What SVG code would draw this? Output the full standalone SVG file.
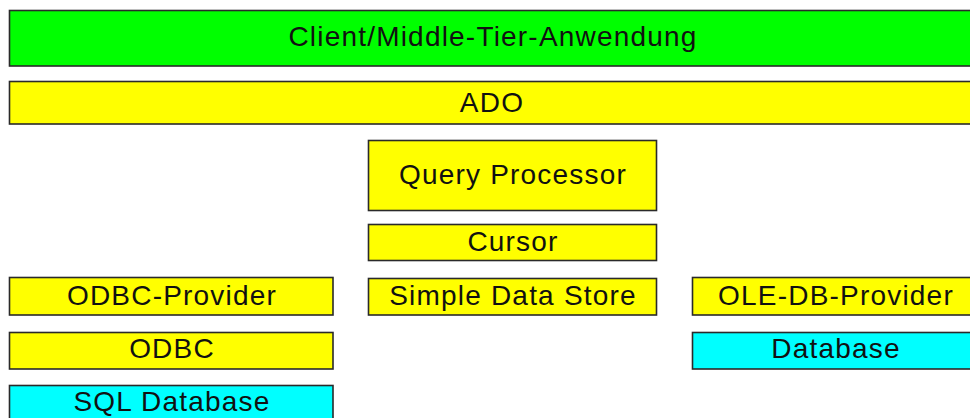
<svg xmlns="http://www.w3.org/2000/svg" width="970" height="418" viewBox="0 0 970 418">
  <style>
    .box { stroke: #2a2a2a; stroke-width: 1.6; }
    .app { fill: #00ff00; }
    .layer { fill: #ffff00; }
    .db { fill: #00ffff; }
    .label { font-family: "Liberation Sans", Arial, sans-serif; font-size: 28px; letter-spacing: 1.2px; fill: #111; text-anchor: middle; }
  </style>
  <rect width="970" height="418" fill="#ffffff"/>

  <g id="client">
    <rect class="box app" x="9.5" y="10.5" width="968" height="55.5"/>
    <text class="label" x="493" y="45.5">Client/Middle-Tier-Anwendung</text>
  </g>
  <g id="ado">
    <rect class="box layer" x="9.5" y="81.5" width="968" height="42.5"/>
    <text class="label" x="492" y="112">ADO</text>
  </g>
  <g id="query-processor">
    <rect class="box layer" x="368.5" y="140.5" width="288" height="70"/>
    <text class="label" x="513" y="183.5">Query Processor</text>
  </g>
  <g id="cursor">
    <rect class="box layer" x="368.5" y="224.5" width="288" height="36"/>
    <text class="label" x="513" y="250.5">Cursor</text>
  </g>
  <g id="simple-data-store">
    <rect class="box layer" x="368.5" y="278.5" width="288" height="36.5"/>
    <text class="label" x="513" y="305">Simple Data Store</text>
  </g>
  <g id="odbc-provider">
    <rect class="box layer" x="9.5" y="277.5" width="323.5" height="37.5"/>
    <text class="label" x="172" y="305">ODBC-Provider</text>
  </g>
  <g id="odbc">
    <rect class="box layer" x="9.5" y="332.5" width="323.5" height="36.5"/>
    <text class="label" x="172" y="358">ODBC</text>
  </g>
  <g id="sql-database">
    <rect class="box db" x="9.5" y="385.5" width="323.5" height="40"/>
    <text class="label" x="172" y="411">SQL Database</text>
  </g>
  <g id="ole-db-provider">
    <rect class="box layer" x="692.5" y="277.5" width="290" height="37.5"/>
    <text class="label" x="836" y="305">OLE-DB-Provider</text>
  </g>
  <g id="database">
    <rect class="box db" x="692.5" y="332.5" width="290" height="36.5"/>
    <text class="label" x="836" y="358">Database</text>
  </g>

  <g id="connectors"></g>
</svg>
